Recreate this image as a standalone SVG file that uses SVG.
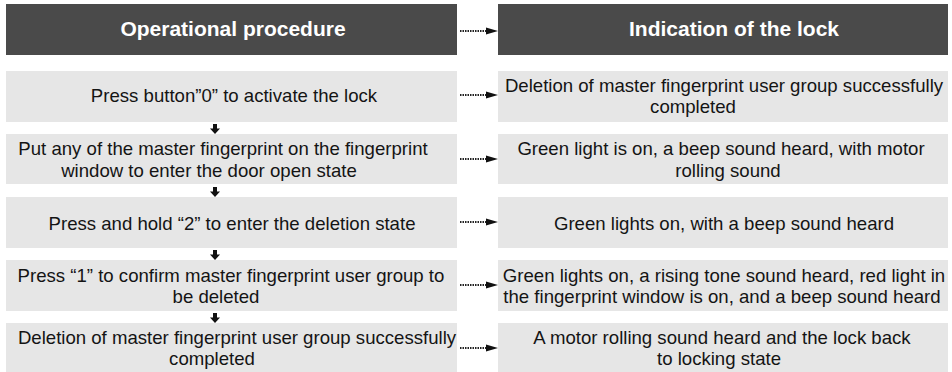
<svg xmlns="http://www.w3.org/2000/svg" width="952" height="372" viewBox="0 0 952 372">
<style>
.hdr{fill:#4a4a4a}
.box{fill:#e6e6e6}
.ht{font-family:"Liberation Sans",Arial,sans-serif;font-size:21px;font-weight:bold;fill:#ffffff;text-anchor:middle}
.t{font-family:"Liberation Sans",Arial,sans-serif;font-size:18.6px;fill:#141414;text-anchor:middle}
.dot{stroke:#222;stroke-width:2;stroke-dasharray:1.5 1;fill:none}
.ah{fill:#111}
</style>
<defs>
<g id="darrow"><rect x="-2" y="0" width="4" height="5" class="ah"/><polygon points="-5,4.5 5,4.5 0,10" class="ah"/></g>
</defs>
<rect width="952" height="372" fill="#ffffff"/>
<g id="h-left"><rect class="hdr" x="6" y="4" width="451" height="51"/><text class="ht" x="233" y="36">Operational procedure</text></g>
<g id="h-right"><rect class="hdr" x="498" y="4" width="450" height="51"/><text class="ht" x="734" y="36">Indication of the lock</text></g>

<g id="l1"><rect class="box" x="6" y="71" width="451" height="51"/><text class="t" x="234" y="102">Press button”0” to activate the lock</text></g>
<g id="l2"><rect class="box" x="6" y="134" width="451" height="50"/><text class="t" x="223" y="155">Put any of the master fingerprint on the fingerprint</text><text class="t" x="209" y="177">window to enter the door open state</text></g>
<g id="l3"><rect class="box" x="6" y="197" width="451" height="51"/><text class="t" x="232" y="230">Press and hold “2” to enter the deletion state</text></g>
<g id="l4"><rect class="box" x="6" y="260" width="451" height="51"/><text class="t" x="231" y="282">Press “1” to confirm master fingerprint user group to</text><text class="t" x="216" y="303">be deleted</text></g>
<g id="l5"><rect class="box" x="6" y="323" width="451" height="49"/><text class="t" x="237" y="344">Deletion of master fingerprint user group successfully</text><text class="t" x="212" y="365">completed</text></g>

<g id="r1"><rect class="box" x="498" y="71" width="450" height="51"/><text class="t" x="724" y="92">Deletion of master fingerprint user group successfully</text><text class="t" x="693" y="113">completed</text></g>
<g id="r2"><rect class="box" x="498" y="134" width="450" height="50"/><text class="t" x="721" y="155">Green light is on, a beep sound heard, with motor</text><text class="t" x="728" y="177">rolling sound</text></g>
<g id="r3"><rect class="box" x="498" y="197" width="450" height="51"/><text class="t" x="724" y="230">Green lights on, with a beep sound heard</text></g>
<g id="r4"><rect class="box" x="498" y="260" width="450" height="51"/><text class="t" x="724" y="282">Green lights on, a rising tone sound heard, red light in</text><text class="t" x="722" y="303">the fingerprint window is on, and a beep sound heard</text></g>
<g id="r5"><rect class="box" x="498" y="323" width="450" height="49"/><text class="t" x="722" y="344">A motor rolling sound heard and the lock back</text><text class="t" x="719" y="365">to locking state</text></g>

<g id="connectors">
<g id="h-arrows">
<line class="dot" x1="460" y1="31" x2="487" y2="31"/><polygon class="ah" points="486,27.5 498,31 486,34.5"/>
<line class="dot" x1="460" y1="95" x2="487" y2="95"/><polygon class="ah" points="486,91.5 498,95 486,98.5"/>
<line class="dot" x1="460" y1="159" x2="487" y2="159"/><polygon class="ah" points="486,155.5 498,159 486,162.5"/>
<line class="dot" x1="460" y1="222" x2="487" y2="222"/><polygon class="ah" points="486,218.5 498,222 486,225.5"/>
<line class="dot" x1="460" y1="285" x2="487" y2="285"/><polygon class="ah" points="486,281.5 498,285 486,288.5"/>
<line class="dot" x1="460" y1="348" x2="487" y2="348"/><polygon class="ah" points="486,344.5 498,348 486,351.5"/>
</g>
<g id="v-arrows">
<use href="#darrow" x="215" y="124"/>
<use href="#darrow" x="215" y="187"/>
<use href="#darrow" x="215" y="250"/>
<use href="#darrow" x="215" y="313"/>
</g>
</g>
</svg>
